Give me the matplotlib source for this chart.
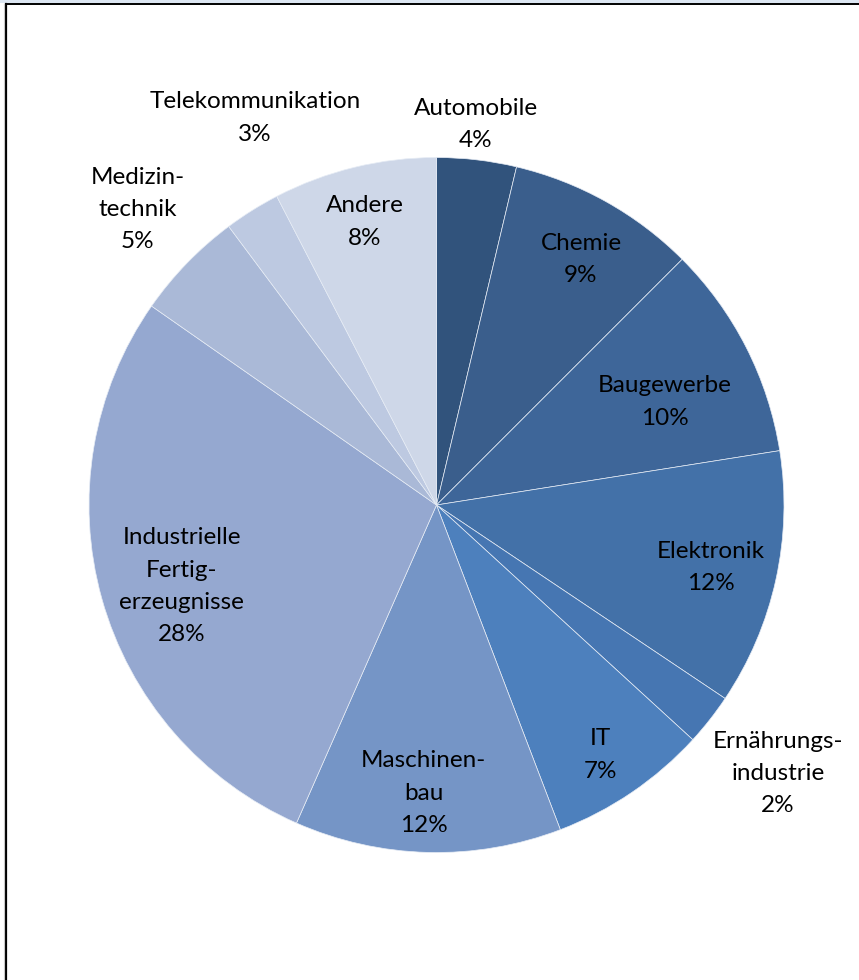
import numpy as np
import matplotlib
matplotlib.use("Agg")
import matplotlib.pyplot as plt
from matplotlib.patches import Rectangle
from matplotlib.lines import Line2D

# Branchenanteile (im Uhrzeigersinn ab 12 Uhr)
branchen = ["Automobile", "Chemie", "Baugewerbe", "Elektronik",
            "Ernährungs-\nindustrie", "IT", "Maschinen-\nbau",
            "Industrielle\nFertig-\nerzeugnisse", "Medizin-\ntechnik",
            "Telekommunikation", "Andere"]
anteile = [3.7, 8.8, 10.0, 11.9, 2.4, 7.4, 12.4, 28.1, 5.1, 2.6, 7.6]
farben = ["#31537C", "#3A5E8C", "#3E6699", "#4371A8", "#4676B2", "#4D80BD",
          "#7595C6", "#95A8D0", "#AAB9D7", "#BDC9E1", "#CED7E8"]

# label placement: radius (in pie radii) and clockwise angle shift (deg) per slice
label_r = [1.10, 0.82, 0.72, 0.81, 1.25, 0.86, 0.83, 0.77, 1.21, 1.23, 0.84]
label_shift = [-0.8, 1.3, 2.7, 0.4, 0.0, 1.0, 1.1, -2.0, 0.6, 6.9, -0.5]

plt.rcParams['font.family'] = ['Lato', 'DejaVu Sans']

W, H = 859, 980
fig = plt.figure(figsize=(W / 100, H / 100), dpi=100)

# pie axes: centre (436.5, 505) px, radius 347.5 px
cx, cy, r = 436.5, 505, 347.5
ax = fig.add_axes([(cx - r) / W, (H - cy - r) / H, 2 * r / W, 2 * r / H])
wedges, _ = ax.pie(anteile, colors=farben, startangle=90, counterclock=False,
                   radius=1.0, wedgeprops=dict(edgecolor='#E6ECF5', linewidth=0.5))
ax.set_xlim(-1, 1)
ax.set_ylim(-1, 1)
ax.set_aspect('equal')
ax.axis('off')

for w, name, val, rr, sh in zip(wedges, branchen, anteile, label_r, label_shift):
    mid = np.deg2rad((w.theta1 + w.theta2) / 2 - sh)
    x, y = rr * np.cos(mid), rr * np.sin(mid)
    ax.text(x, y, f"{name}\n{round(val):d}%", ha='center', va='center',
            fontsize=17.5, linespacing=1.66, color='black', clip_on=False)

# frame lines like the source
fig.add_artist(Rectangle((0, 1 - 3 / H), 1, 3 / H, transform=fig.transFigure,
                         facecolor='#DCE6F2', edgecolor='none'))
fig.add_artist(Line2D([5.5 / W, 1], [1 - 3.8 / H, 1 - 3.8 / H], transform=fig.transFigure,
                      color='black', linewidth=1.4))
fig.add_artist(Line2D([5.5 / W, 5.5 / W], [0, 1 - 3.8 / H], transform=fig.transFigure,
                      color='black', linewidth=1.6))
fig.add_artist(Line2D([4 / W, 4 / W], [0, 1 - 3.8 / H], transform=fig.transFigure,
                      color='#C8C8C8', linewidth=0.8))

fig.savefig("out.png", dpi=100)
